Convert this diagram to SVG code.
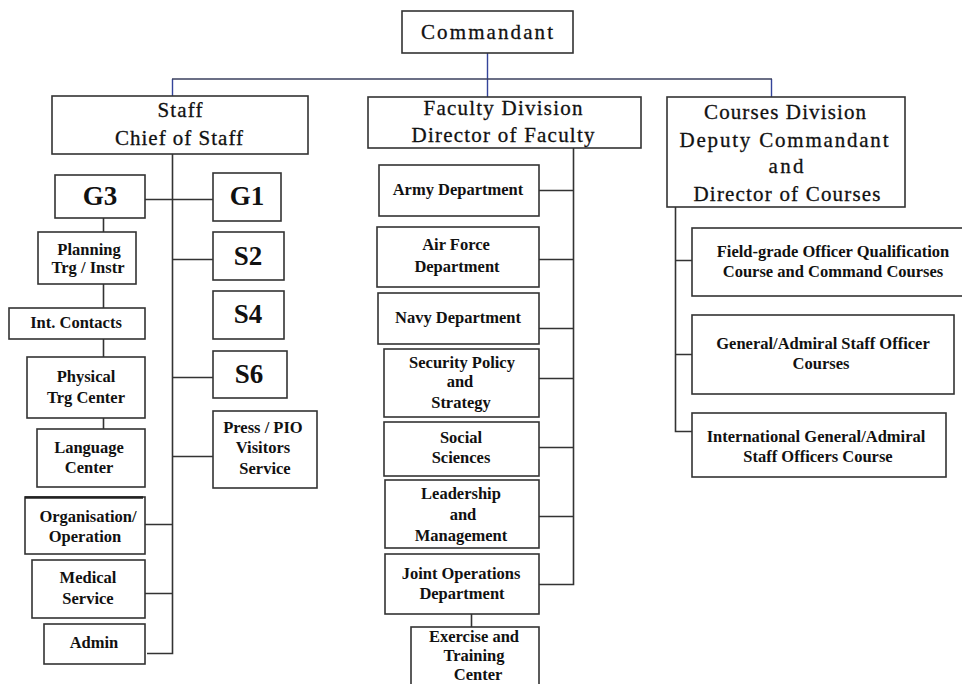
<svg xmlns="http://www.w3.org/2000/svg" width="962" height="684" viewBox="0 0 962 684">
<style>
.b{fill:#fff;stroke:#333;stroke-width:1.6}
.h{font-family:"Liberation Serif","DejaVu Serif",serif;font-size:21px;fill:#111;stroke:#111;stroke-width:0.3;text-anchor:middle}
.t{font-family:"Liberation Serif","DejaVu Serif",serif;font-size:16.5px;font-weight:bold;fill:#111;text-anchor:middle}
.g{font-family:"Liberation Serif","DejaVu Serif",serif;font-size:27px;font-weight:bold;fill:#111;text-anchor:middle}
.c{fill:none;stroke:#333;stroke-width:1.6}
.cb{fill:none;stroke:#34449a;stroke-width:1.4}
</style>
<rect width="962" height="684" fill="#fff"/>
<g id="connectors">
<path class="cb" d="M487.5 53V79M172.5 79V96M487.5 79V97M771.5 79V97"/>
<path class="c" style="stroke:#3a3f5e" d="M172 79H772"/>
<path class="c" d="M172.5 154V653.5H147M145 199.5H213M172.5 259.5H213M172.5 377.5H213M172.5 456.5H213M145 524.5H172.5M145 593.5H172.5M103.5 218V232M103.5 284V308M103.5 339V357M103.5 418V429"/>
<path class="c" d="M573.5 148V584.5H539M539 190.5H573.5M539 259.5H573.5M539 328.5H573.5M539 378.5H573.5M539 447.5H573.5M539 516.5H573.5M471.5 614V627"/>
<path class="c" d="M675.5 207V431.5H692M675.5 260.5H692M675.5 354.5H692"/>
</g>
<g id="commandant"><rect class="b" x="402" y="11" width="171" height="42"/><text class="h" x="487" y="39" textLength="132">Commandant</text></g>
<g id="staff"><rect class="b" x="52" y="96" width="256" height="58"/><text class="h" x="180" y="117" textLength="45">Staff</text><text class="h" x="179" y="145" textLength="128">Chief of Staff</text></g>
<g id="faculty"><rect class="b" x="368" y="97" width="273" height="51"/><text class="h" x="503" y="115" textLength="159">Faculty Division</text><text class="h" x="503" y="142" textLength="183">Director of Faculty</text></g>
<g id="courses"><rect class="b" x="667" y="97" width="238" height="110"/><text class="h" x="785" y="119" textLength="162">Courses Division</text><text class="h" x="784" y="147" textLength="209">Deputy Commandant</text><text class="h" x="786" y="173" textLength="35">and</text><text class="h" x="787" y="201" textLength="187">Director of Courses</text></g>
<g id="g3"><rect class="b" x="55" y="175" width="90" height="43"/><text class="g" x="100" y="205">G3</text></g>
<g id="g1"><rect class="b" x="213" y="173" width="68" height="48"/><text class="g" x="247" y="205">G1</text></g>
<g id="s2"><rect class="b" x="213" y="232" width="71" height="48"/><text class="g" x="248" y="265">S2</text></g>
<g id="s4"><rect class="b" x="213" y="291" width="71" height="48"/><text class="g" x="248" y="323">S4</text></g>
<g id="s6"><rect class="b" x="213" y="351" width="74" height="47"/><text class="g" x="249" y="383">S6</text></g>
<g id="press"><rect class="b" x="213" y="411" width="104" height="77"/><text class="t" x="263" y="433">Press / PIO</text><text class="t" x="263" y="453">Visitors</text><text class="t" x="265" y="474">Service</text></g>
<g id="planning"><rect class="b" x="38" y="232" width="98" height="52"/><text class="t" x="89" y="255">Planning</text><text class="t" x="88" y="273">Trg / Instr</text></g>
<g id="intcontacts"><rect class="b" x="9" y="308" width="136" height="31"/><text class="t" x="76" y="328">Int. Contacts</text></g>
<g id="physical"><rect class="b" x="27" y="357" width="118" height="61"/><text class="t" x="86" y="382">Physical</text><text class="t" x="86" y="403">Trg Center</text></g>
<g id="language"><rect class="b" x="37" y="429" width="108" height="58"/><text class="t" x="89" y="453">Language</text><text class="t" x="89" y="473">Center</text></g>
<g id="organisation"><rect class="b" x="25" y="497" width="120" height="57"/><path d="M25 497.5H143" stroke="#222" stroke-width="2.6"/><text class="t" x="88" y="522">Organisation/</text><text class="t" x="85" y="542">Operation</text></g>
<g id="medical"><rect class="b" x="32" y="560" width="113" height="58"/><text class="t" x="88" y="583">Medical</text><text class="t" x="88" y="604">Service</text></g>
<g id="admin"><rect class="b" x="44" y="624" width="101" height="40"/><text class="t" x="94" y="648">Admin</text></g>
<g id="army"><rect class="b" x="379" y="165" width="160" height="51"/><text class="t" x="458" y="195">Army Department</text></g>
<g id="airforce"><rect class="b" x="377" y="227" width="162" height="60"/><text class="t" x="456" y="250">Air Force</text><text class="t" x="457" y="272">Department</text></g>
<g id="navy"><rect class="b" x="378" y="293" width="161" height="51"/><text class="t" x="458" y="323">Navy Department</text></g>
<g id="security"><rect class="b" x="384" y="349" width="155" height="68"/><text class="t" x="462" y="368">Security Policy</text><text class="t" x="460" y="387">and</text><text class="t" x="461" y="408">Strategy</text></g>
<g id="social"><rect class="b" x="384" y="422" width="155" height="54"/><text class="t" x="461" y="443">Social</text><text class="t" x="461" y="463">Sciences</text></g>
<g id="leadership"><rect class="b" x="385" y="480" width="154" height="68"/><text class="t" x="461" y="499">Leadership</text><text class="t" x="463" y="520">and</text><text class="t" x="461" y="541">Management</text></g>
<g id="joint"><rect class="b" x="385" y="554" width="154" height="60"/><text class="t" x="461" y="579">Joint Operations</text><text class="t" x="462" y="599">Department</text></g>
<g id="exercise"><rect class="b" x="411" y="627" width="128" height="70"/><text class="t" x="474" y="642">Exercise and</text><text class="t" x="474" y="661">Training</text><text class="t" x="478" y="680">Center</text></g>
<g id="fieldgrade"><rect class="b" x="692" y="228" width="272" height="68"/><text class="t" x="833" y="257">Field-grade Officer Qualification</text><text class="t" x="833" y="277">Course and Command Courses</text></g>
<g id="general"><rect class="b" x="692" y="315" width="262" height="79"/><text class="t" x="823" y="349">General/Admiral Staff Officer</text><text class="t" x="821" y="369">Courses</text></g>
<g id="international"><rect class="b" x="692" y="413" width="254" height="64"/><text class="t" x="816" y="442">International General/Admiral</text><text class="t" x="818" y="462">Staff Officers Course</text></g>
</svg>
